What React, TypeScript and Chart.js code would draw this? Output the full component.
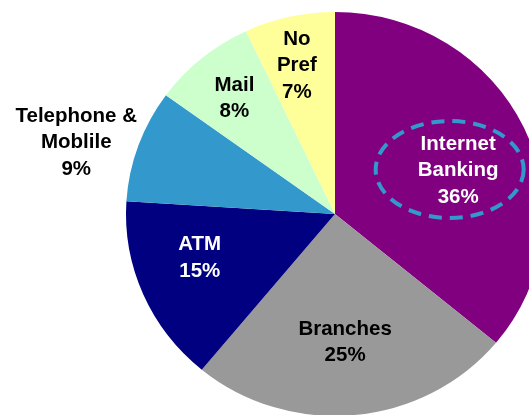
import { useEffect, useRef } from "react";
import { Chart, registerables } from "chart.js";

Chart.register(...registerables);

// Preferred banking channel shares (percent), clockwise from 12 o'clock
const categories = ["Internet Banking", "Branches", "ATM", "Telephone & Moblile", "Mail", "No Pref"];
const labelLines = [["Internet", "Banking"], ["Branches"], ["ATM"], ["Telephone &", "Moblile"], ["Mail"], ["No", "Pref"]];
const shares = [36, 25, 15, 9, 8, 7];
const sliceColors = ["#800080", "#999999", "#000080", "#3399CC", "#CCFFCC", "#FFFF99"];
const labelColors = ["#FFFFFF", "#000000", "#FFFFFF", "#000000", "#000000", "#000000"];

// label placement: fraction of the radius and a small angular nudge (degrees, clockwise)
const labelRadius = [0.63, 0.63, 0.68, 1.29, 0.755, 0.765];
const labelAngleShift = [4.5, 1, 5.5, -3.5, 0, -1.2];

const H_STRETCH = 209 / 202;
const FONT_SIZE = 20.5;
const LINE_GAP = 26.5;

const stretchPlugin = {
  id: "stretchPie",
  beforeDatasetsDraw(chart: any) {
    const arc = chart.getDatasetMeta(0).data[0] as any;
    const ctx = chart.ctx;
    ctx.save();
    ctx.translate(arc.x, arc.y);
    ctx.scale(H_STRETCH, 1);
    ctx.translate(-arc.x, -arc.y);
  },
  afterDatasetsDraw(chart: any) {
    chart.ctx.restore();
  },
};

const labelPlugin = {
  id: "sliceLabels",
  afterDraw(chart: any) {
    const ctx: CanvasRenderingContext2D = chart.ctx;
    const arcs = chart.getDatasetMeta(0).data as any[];
    ctx.save();
    ctx.font = `bold ${FONT_SIZE}px "Liberation Sans", Arial, sans-serif`;
    ctx.textAlign = "center";
    ctx.textBaseline = "alphabetic";
    arcs.forEach((arc, i) => {
      const mid = (arc.startAngle + arc.endAngle) / 2 + (labelAngleShift[i] * Math.PI) / 180;
      const r = arc.outerRadius * labelRadius[i];
      const cx = arc.x + Math.cos(mid) * r * H_STRETCH;
      const cy = arc.y + Math.sin(mid) * r;
      const lines = [...labelLines[i], `${shares[i]}%`];

      if (i === 0) {
        // dashed callout ring around the leading channel
        ctx.save();
        ctx.strokeStyle = "#3399CC";
        ctx.lineWidth = 4;
        ctx.setLineDash([13, 8]);
        ctx.beginPath();
        ctx.ellipse(cx - 8.5, cy + 0.5, 74, 48.5, 0, 0, Math.PI * 2);
        ctx.stroke();
        ctx.restore();
      }

      ctx.fillStyle = labelColors[i];
      lines.forEach((line, k) => {
        const ly = cy + (k - (lines.length - 1) / 2) * LINE_GAP;
        ctx.fillText(line, cx, ly + FONT_SIZE * 0.358);
      });
    });
    ctx.restore();
  },
};

export default function App() {
  const canvasRef = useRef<HTMLCanvasElement | null>(null);

  useEffect(() => {
    if (!canvasRef.current) return;
    const chart = new Chart(canvasRef.current, {
      type: "pie",
      data: {
        labels: categories,
        datasets: [
          {
            data: shares,
            backgroundColor: sliceColors,
            borderWidth: 0,
          },
        ],
      },
      options: {
        responsive: false,
        animation: false,
        devicePixelRatio: 1,
        layout: { padding: 12 },
        plugins: {
          legend: { display: false },
          tooltip: { enabled: false },
        },
      },
      plugins: [stretchPlugin, labelPlugin],
    });
    return () => chart.destroy();
  }, []);

  return (
    <div
      style={{
        position: "fixed",
        left: 0,
        top: 0,
        width: 529,
        height: 415,
        overflow: "hidden",
        background: "#FFFFFF",
      }}
    >
      <canvas ref={canvasRef} width={670} height={428} style={{ display: "block" }} />
    </div>
  );
}
